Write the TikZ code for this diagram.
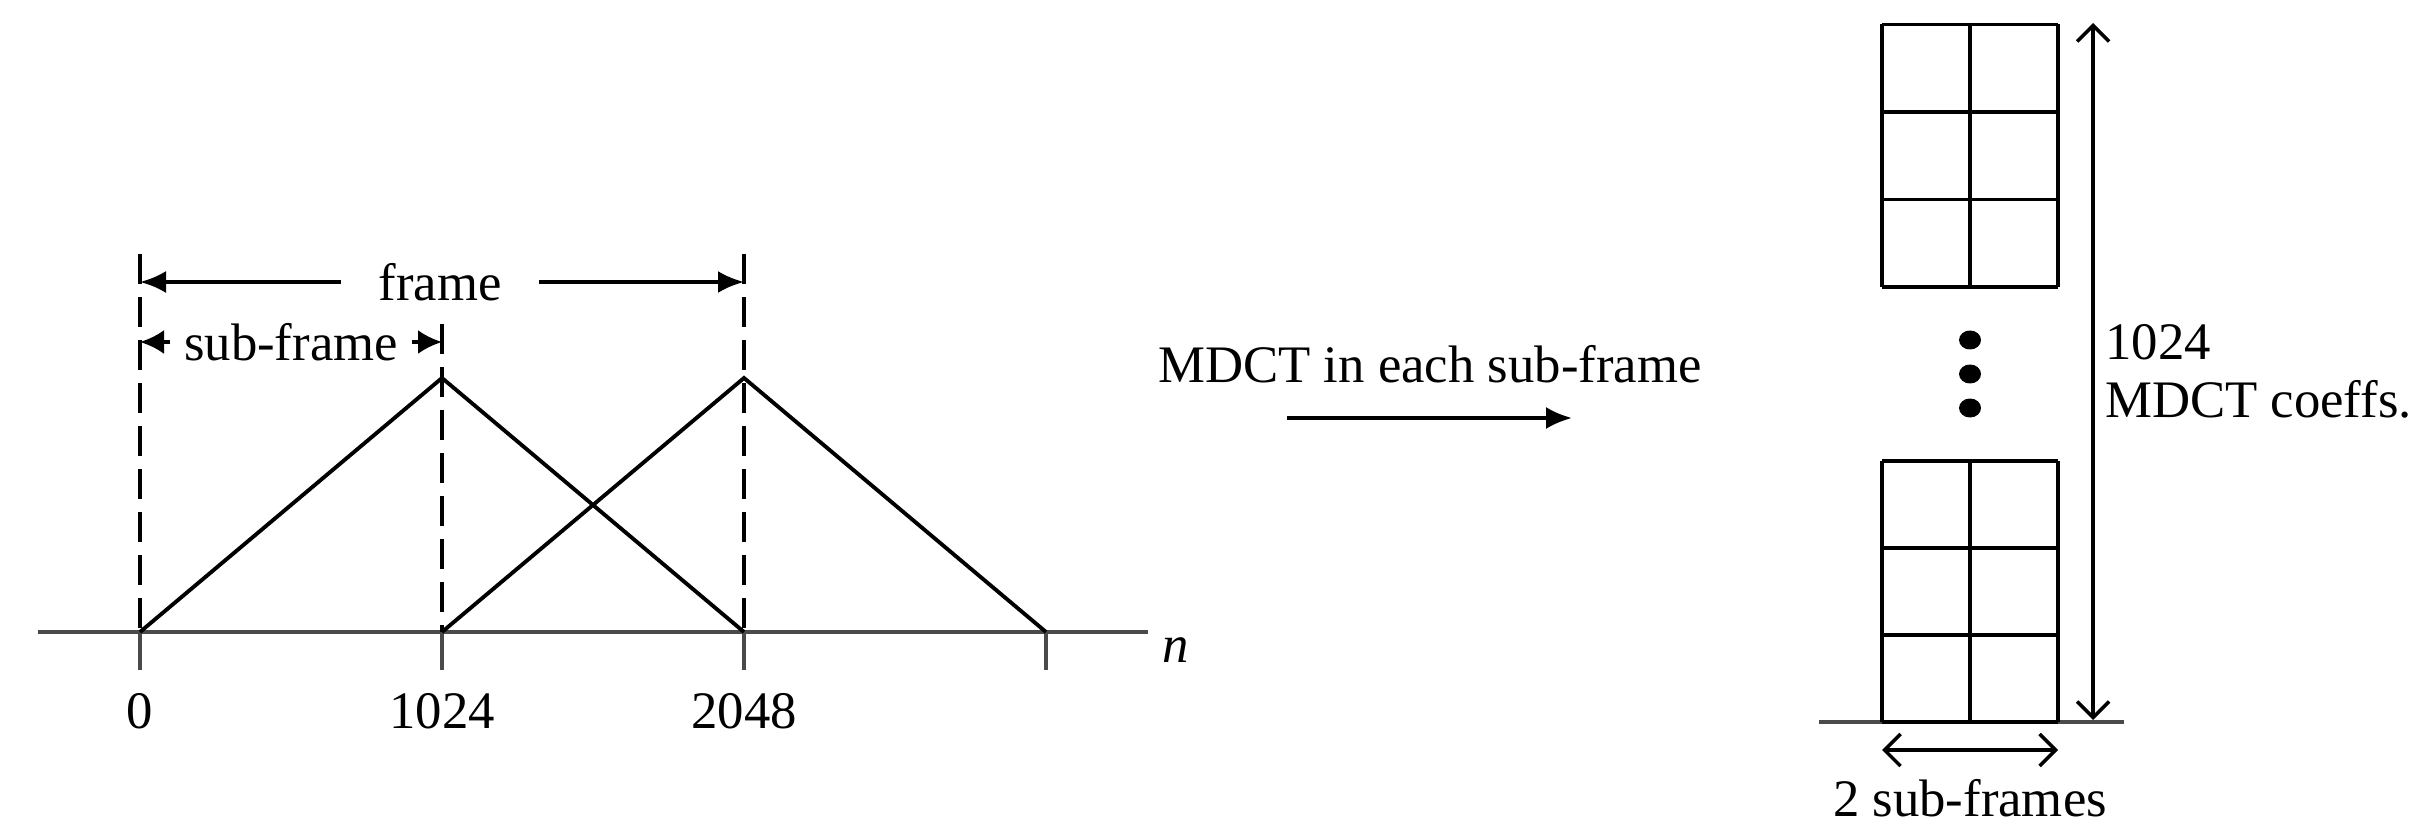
\documentclass[tikz,border=0pt]{standalone}
\usepackage{fontspec}
\setmainfont{Liberation Serif}
\usepackage{tikz}
\usetikzlibrary{arrows.meta,positioning}
\definecolor{ink}{HTML}{000000}
\definecolor{axisgray}{HTML}{4A4A4A}

\begin{document}
\begin{tikzpicture}[
  x=1cm,y=1cm,
  line width=1pt,
  lbl/.style={font=\fontsize{15}{18}\selectfont,inner sep=1pt},
  win/.style={draw=ink,line join=miter,line width=1.1pt},
  guide/.style={draw=ink,dash pattern=on 0.3cm off 0.13cm},
  axisline/.style={draw=axisgray,line width=1.2pt},
  span/.style={-{Latex[length=2.6mm,width=2.2mm]},draw=ink},
  sspan/.style={-{Latex[length=2.4mm,width=2.4mm]},draw=ink},
  dim/.style={{Straight Barb[length=1.6mm,width=3.2mm]}-{Straight Barb[length=1.6mm,width=3.2mm]},draw=ink},
  cell/.style={draw=ink,line width=1.1pt}
]
\useasboundingbox (0,0) rectangle (24.17,8.31);
% time axis and window positions
\coordinate (ax0) at (0.38,1.99);
\coordinate (ax1) at (11.48,1.99);
\coordinate (t0) at (1.40,1.99);
\coordinate (t1) at (4.42,1.99);
\coordinate (t2) at (7.44,1.99);
\coordinate (t3) at (10.46,1.99);
\coordinate (p1) at (4.42,4.53);
\coordinate (p2) at (7.44,4.53);
\draw[axisline] (ax0)--(ax1);
\foreach \t in {t0,t1,t2,t3}
  \draw[axisline,line width=0.9pt] (\t)--++(0,-0.38);
\node[lbl] (n) at (11.76,1.81) {\textit{n}};
\node[lbl] (l0) at (1.40,1.20) {0};
\node[lbl] (l1) at (4.42,1.20) {1024};
\node[lbl] (l2) at (7.44,1.20) {2048};
% windows
\draw[win] (t0)--(p1)--(t2);
\draw[win] (t1)--(p2)--(t3);
% frame boundaries
\coordinate (g0) at (1.40,5.77);
\coordinate (g1) at (4.42,5.07);
\coordinate (g2) at (7.44,5.77);
\draw[guide] (g0)--(t0);
\draw[guide] (g1)--(t1);
\draw[guide] (g2)--(t2);
\node[lbl,inner xsep=0.36cm] (frame) at (4.40,5.49) {frame};
\draw[span] (frame)--(1.40,5.49);
\draw[span] (frame)--(7.44,5.49);
\node[lbl,inner xsep=0.12cm] (sub) at (2.91,4.89) {sub-frame};
\draw[sspan] (sub)--(1.40,4.89);
\draw[sspan] (sub)--(4.42,4.89);
% transform
\node[lbl] (mdct) at (14.30,4.67) {MDCT in each sub-frame};
\coordinate (m0) at (12.87,4.13);
\coordinate (m1) at (15.72,4.13);
\draw[span] (m0)--(m1);
% coefficient blocks
\draw[axisgray,line width=1.2pt] (18.19,1.09)--(21.24,1.09);
\begin{scope}[shift={(18.82,5.44)}]
  \draw[cell] (0,0) grid[xstep=0.88,ystep=0.875] (1.76,2.625);
\end{scope}
\begin{scope}[shift={(18.82,1.09)}]
  \draw[cell] (0,0) grid[xstep=0.88,ystep=0.87] (1.76,2.61);
\end{scope}
\foreach \y/\k in {4.91/a,4.57/b,4.23/c}
  \fill[ink] (19.70,\y) ellipse[x radius=0.11,y radius=0.095];
\coordinate (c0) at (20.93,8.08);
\coordinate (c1) at (20.93,1.11);
\draw[dim] (c0)--(c1);
\node[lbl,anchor=west,align=left] (coef) at (21.00,4.60) {1024\\[-1.5pt]MDCT coeffs.};
\coordinate (s0) at (18.82,0.81);
\coordinate (s1) at (20.58,0.81);
\draw[dim] (s0)--(s1);
\node[lbl] (subs) at (19.70,0.33) {2 sub-frames};
\end{tikzpicture}
\end{document}
